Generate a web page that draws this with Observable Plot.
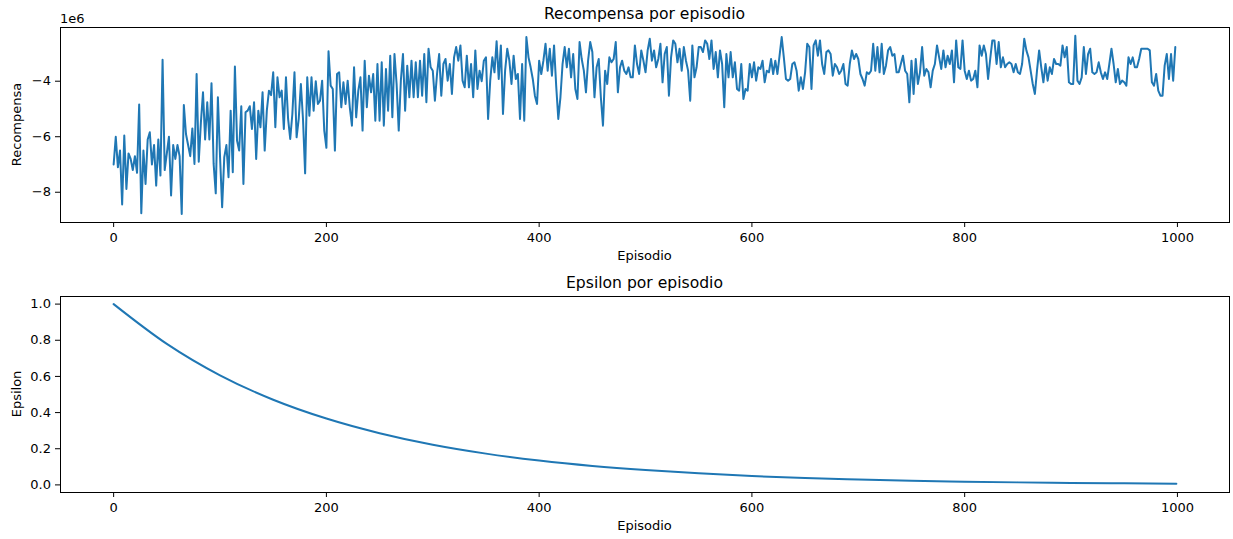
<!DOCTYPE html>
<html>
<head>
<meta charset="utf-8">
<script src="https://cdn.jsdelivr.net/npm/d3@7"></script>
<script src="https://cdn.jsdelivr.net/npm/@observablehq/plot@0.6"></script>
<style>
  html, body { margin: 0; padding: 0; background: #fff; }
  #wrap { position: relative; width: 1233px; height: 539px; background: #fff; overflow: hidden; }
  #wrap > svg { position: absolute; left: 0; }
  .lbl { font-family: "DejaVu Sans", sans-serif; fill: #000; }
</style>
</head>
<body>
<div id="wrap"></div>
<script>
// ---- data (reward in units of 1e6) ----
const xTicks = [0, 200, 400, 600, 800, 1000];
const rewardTicks = [-8, -6, -4];
const epsilonTicks = [0, 0.2, 0.4, 0.6, 0.8, 1.0];

// episodes 0..350, every 2 episodes
const rewardAStart = 0;
const rewardA = [
-7.0,-6.0,-7.1,-6.5,-8.44,-5.96,-7.88,-6.6,-6.8,-7.2,-6.7,-7.3,-4.84,-8.76,-6.5,-7.7,-6.1,-5.84,-7.0,-6.3,
-7.76,-6.1,-7.4,-3.23,-7.2,-6.6,-6.0,-8.12,-6.3,-6.8,-6.3,-6.7,-8.78,-4.86,-5.9,-6.3,-6.7,-5.7,-6.98,-3.74,
-6.9,-5.5,-4.4,-6.1,-4.76,-6.1,-4.07,-6.98,-8.04,-4.58,-6.7,-8.54,-6.74,-6.3,-7.46,-5.06,-7.28,-3.47,-6.14,-6.5,
-4.9,-7.7,-5.12,-5.06,-4.9,-5.72,-4.76,-6.8,-5.06,-5.66,-4.4,-6.5,-5.06,-4.34,-4.5,-3.68,-5.66,-3.86,-4.58,-4.34,
-5.72,-3.86,-5.36,-6.08,-5.18,-3.68,-6.02,-5.36,-4.1,-5.36,-7.32,-3.86,-5.24,-3.86,-5.06,-4.0,-4.82,-4.7,-3.98,-5.78,
-6.4,-2.92,-4.16,-4.28,-6.5,-3.74,-3.68,-4.94,-4.04,-4.82,-3.98,-4.94,-5.6,-3.5,-5.3,-4.34,-3.86,-5.78,-3.26,-4.94,
-3.8,-4.4,-3.74,-5.42,-3.38,-5.42,-3.32,-5.6,-3.56,-5.06,-3.08,-5.3,-3.02,-4.1,-5.78,-3.98,-3.02,-5.06,-3.44,-4.58,
-3.26,-4.58,-3.32,-4.58,-3.26,-4.52,-3.02,-4.76,-2.83,-3.5,-3.62,-4.7,-3.74,-3.02,-4.52,-3.38,-3.2,-3.98,-3.38,-4.46,
-3.14,-2.77,-3.26,-2.71,-3.98,-4.22,-3.08,-4.22,-3.38,-4.58,-2.89,-4.28,-3.62,-4.0,-3.26,-3.14
];

// episodes 352..700, every 2 episodes
const rewardBStart = 352;
const rewardB = [
-5.36,-3.98,-3.14,-3.68, -2.56,-3.92,-2.71,-5.18, -3.62,-2.83,-3.26,-4.1, -3.08,-3.92,-3.74,-5.36,
-3.38,-5.42,-2.41,-3.14, -3.5,-3.92,-4.52,-4.82, -3.26,-3.74,-3.26, -2.65,-3.62,-2.83,-3.8,
-2.71,-4.16,-5.36,-4.58, -3.38,-2.77,-3.5,-2.83, -3.86,-3.02,-4.28,-4.64, -2.59,-3.2,-3.62,-4.4,
-3.26,-2.59,-2.95,-4.58, -3.5,-3.2,-4.58,-5.6, -3.62,-4.1,-3.14,-3.32, -3.2,-2.59,-4.4,-3.5,
-3.26,-3.62,-3.74, -3.5,-3.86,-3.86,-2.71, -3.38,-3.74,-2.89,-3.26, -3.68,-2.89,-2.47,-3.26,
-2.89,-3.5,-3.2,-2.65, -4.04,-3.02,-2.77,-4.52, -3.14,-2.53,-2.65,-3.32, -2.83,-3.62,-2.77,-3.26,
-3.62,-4.7,-2.71,-3.86, -3.5,-2.77,-2.77, -2.95,-2.53,-2.65,-3.2, -2.53,-3.56,-2.95,-3.86,
-2.89,-3.38,-4.94,-3.02, -3.86,-2.95,-3.86,-3.32, -4.28,-4.34,-3.38,-4.64, -4.28,-4.34,-3.38,-3.86,
-3.32,-3.98,-3.5,-3.56, -3.26,-4.04,-3.62,-3.68, -3.2,-3.74,-3.26, -3.74,-3.08,-2.41,-3.14,
-3.92,-3.98,-3.92,-3.38, -3.32,-3.62,-4.34,-3.86, -4.28,-3.68,-2.65,-2.77, -4.28,-2.71,-2.53,-3.08,
-2.53,-3.38,-3.74,-2.95, -2.89,-3.02,-3.8,-3.38, -3.5,-3.74,-3.62, -3.38,-4.1,-4.16,-3.38,
-2.89,-3.2,-3.02,-3.2
];

// episodes 702..998, every 2 episodes
const rewardCStart = 702;
const rewardC = [
-3.74,-3.92,-4.16,-3.68, -3.74,-3.62,-2.65,-3.62, -2.77,-3.68,-2.65,-3.74, -3.44,-2.89,-2.77,-3.08,
-3.02,-3.68,-3.68, -3.38,-3.08,-3.62,-3.74, -4.76,-3.26,-4.46,-3.2, -4.1,-3.68,-2.77,-3.8,
-3.56,-3.68,-4.22,-3.62, -3.38,-2.71,-3.14,-3.56, -2.89,-3.5,-3.08,-3.38, -2.89,-4.04,-2.53,-3.5,
-3.56,-2.53,-3.62,-3.92, -3.62,-3.98,-3.92,-3.62, -4.22,-2.71,-3.08,-2.71, -3.02,-3.92,-3.2,-2.53,
-2.53,-3.38,-2.59, -3.5,-3.14,-3.5,-3.38, -3.32,-3.38,-3.68,-3.38, -3.68,-3.74,-3.38,-2.47,
-2.89,-3.14,-3.62,-4.1, -4.46,-3.62,-2.89,-3.5, -4.04,-3.38,-3.98,-3.5, -3.74,-3.2,-3.38,-3.38,
-3.44,-2.71,-3.14,-2.77, -4.04,-4.1,-4.1,-2.36, -3.98,-4.1,-3.86,-2.77, -3.74,-3.02,-2.83,-3.68,
-3.74,-3.68,-3.32, -3.68,-3.92,-3.68,-3.92, -3.38,-2.83,-3.38,-4.04, -3.56,-4.1,-3.98,-4.04,
-4.16,-3.14,-3.38,-3.14, -3.5,-3.5,-3.2,-2.83, -2.83,-2.83,-2.83, -2.89,-4.04,-4.16,-3.74,
-4.34,-4.52,-4.52,-3.44, -3.02,-3.92,-3.02,-3.98, -2.77
];

const epsilonEpisodes = [0, 50, 100, 150, 200, 250, 300, 350, 400, 450, 500, 550, 600, 650, 700, 750, 800, 850, 900, 950, 999];
const epsilonValues   = [1.0, 0.78, 0.606, 0.471, 0.367, 0.286, 0.222, 0.173, 0.135, 0.105, 0.082, 0.064, 0.049, 0.038, 0.030, 0.023, 0.018, 0.014, 0.011, 0.009, 0.007];

(function () {
  // ---- tables ----
  const rewardRows = [[rewardA, rewardAStart], [rewardB, rewardBStart], [rewardC, rewardCStart]]
    .flatMap(([arr, start]) => arr.map((v, i) => ({episode: start + 2 * i, reward: v})));
  const epsilonRows = epsilonEpisodes.map((e, i) => ({episode: e, epsilon: epsilonValues[i]}));

  const blue = "#1f77b4";
  const fmtMinus = d => d < 0 ? "\u2212" + Math.abs(d) : String(d);
  const common = {
    width: 1233,
    marginLeft: 60,
    marginRight: 4,
    style: {fontFamily: "DejaVu Sans, sans-serif", fontSize: "13px", color: "#000", background: "transparent", overflow: "visible"},
    x: {domain: [-49.95, 1048.95]}
  };

  const chartTop = Plot.plot({
    ...common,
    height: 270,
    marginTop: 27,
    marginBottom: 48,
    y: {domain: [-9.09, -2.065]},
    marks: [
      Plot.axisX({ticks: xTicks, tickSize: 5, tickPadding: 5, tickFormat: d => String(d), label: null}),
      Plot.axisY({ticks: rewardTicks, tickSize: 5, tickPadding: 4.5, tickFormat: fmtMinus, label: null}),
      Plot.line(rewardRows, {x: "episode", y: "reward", stroke: blue, strokeWidth: 2}),
      Plot.frame({stroke: "#000", strokeWidth: 1})
    ]
  });
  chartTop.style.top = "0px";

  const chartBottom = Plot.plot({
    ...common,
    height: 269,
    marginTop: 26,
    marginBottom: 47,
    y: {domain: [-0.042, 1.042]},
    marks: [
      Plot.axisX({ticks: xTicks, tickSize: 5, tickPadding: 5, tickFormat: d => String(d), label: null}),
      Plot.axisY({ticks: epsilonTicks, tickSize: 5, tickPadding: 4.5, tickFormat: d3.format(".1f"), label: null}),
      Plot.line(epsilonRows, {x: "episode", y: "epsilon", stroke: blue, strokeWidth: 2, curve: "monotone-x"}),
      Plot.frame({stroke: "#000", strokeWidth: 1})
    ]
  });
  chartBottom.style.top = "270px";

  const wrap = document.getElementById("wrap");
  wrap.appendChild(chartTop);
  wrap.appendChild(chartBottom);

  // ---- text overlay ----
  const ns = "http://www.w3.org/2000/svg";
  const overlay = document.createElementNS(ns, "svg");
  overlay.setAttribute("width", 1233);
  overlay.setAttribute("height", 539);
  overlay.style.top = "0px";
  overlay.style.pointerEvents = "none";
  function addText(str, x, y, size, anchor, rotate) {
    const t = document.createElementNS(ns, "text");
    t.textContent = str;
    t.setAttribute("class", "lbl");
    t.setAttribute("font-size", size);
    t.setAttribute("text-anchor", anchor);
    if (rotate) {
      t.setAttribute("transform", `translate(${x},${y}) rotate(-90)`);
    } else {
      t.setAttribute("x", x);
      t.setAttribute("y", y);
    }
    overlay.appendChild(t);
  }
  addText("Recompensa por episodio", 644.5, 19, 15.6, "middle");
  addText("1e6", 60, 22.5, 13, "start");
  addText("Recompensa", 20.5, 124.5, 13, "middle", true);
  addText("Episodio", 644.5, 260, 13, "middle");
  addText("Epsilon por episodio", 644.5, 287.5, 15.6, "middle");
  addText("Epsilon", 20.5, 394, 13, "middle", true);
  addText("Episodio", 644.5, 529.5, 13, "middle");
  wrap.appendChild(overlay);
})();
</script>
</body>
</html>
